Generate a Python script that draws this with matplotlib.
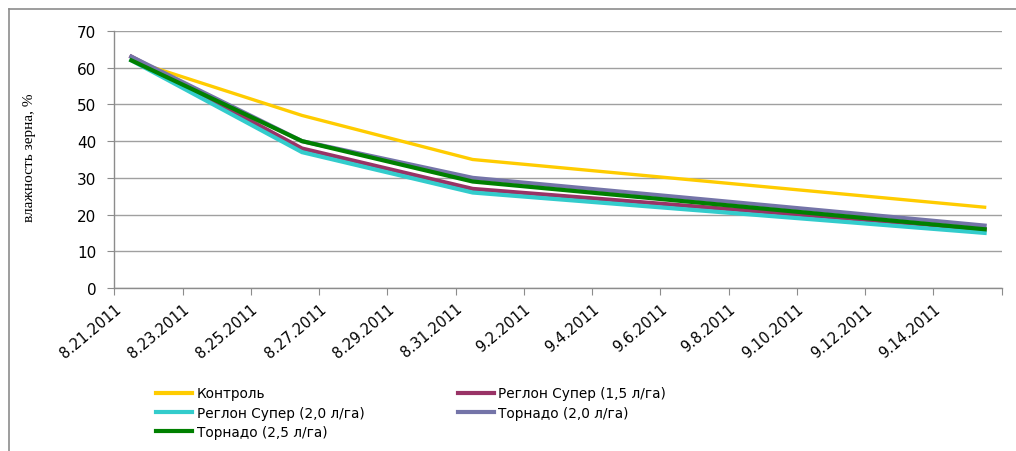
import matplotlib
matplotlib.use("Agg")
import matplotlib.pyplot as plt
from matplotlib.lines import Line2D
from datetime import date

# ---- data ----
dates = ["2011-08-21", "2011-08-26", "2011-08-31", "2011-09-15"]
series_names = ["Контроль", "Реглон Супер (1,5 л/га)", "Реглон Супер (2,0 л/га)",
                "Торнадо (2,0 л/га)", "Торнадо (2,5 л/га)"]
kontrol = [62, 47, 35, 22]
reglon_15 = [63, 38, 27, 16]
reglon_20 = [62, 37, 26, 15]
tornado_20 = [63, 40, 30, 17]
tornado_25 = [62, 40, 29, 16]
tick_labels = ["8.21.2011", "8.23.2011", "8.25.2011", "8.27.2011", "8.29.2011",
               "8.31.2011", "9.2.2011", "9.4.2011", "9.6.2011", "9.8.2011",
               "9.10.2011", "9.12.2011", "9.14.2011"]
y_ticks = [0, 10, 20, 30, 40, 50, 60, 70]
y_label = "влажность зерна, %"

# ---- styling ----
colors = ["#FFCC00", "#993366", "#33CCCC", "#7474A8", "#008000"]
widths = [2.4, 3.0, 3.0, 3.0, 3.0]
draw_order = [0, 3, 2, 1, 4]
values = [kontrol, reglon_15, reglon_20, tornado_20, tornado_25]

start = date(2011, 8, 21)
x = [(date.fromisoformat(d) - start).days + 0.5 for d in dates]

fig = plt.figure(figsize=(10.16, 4.52), dpi=100)
ax = fig.add_axes([114.3 / 1016, 1 - 289 / 452, (1001.7 - 114.3) / 1016, (289 - 32) / 452])

for i in draw_order:
    ax.plot(x, values[i], color=colors[i], lw=widths[i], solid_joinstyle="miter", zorder=3 + i * 0.01)

ax.set_xlim(0, 26)
ax.set_ylim(0, 70)
ax.set_xticks(list(range(0, 27, 2)))
ax.set_xticklabels(tick_labels + [""], rotation=40, ha="right", va="top",
                   rotation_mode="anchor", fontsize=10.5, family="DejaVu Sans")
ax.set_yticks(y_ticks)
ax.set_yticklabels([str(v) for v in y_ticks], fontsize=11)
ax.tick_params(axis="x", direction="out", length=5, color="#8c8c8c", pad=4)
ax.tick_params(axis="y", direction="out", length=5, color="#8c8c8c", pad=8)
ax.grid(axis="y", color="#a0a0a0", lw=1)
ax.set_axisbelow(True)
for s in ["top", "right"]:
    ax.spines[s].set_visible(False)
for s in ["left", "bottom"]:
    ax.spines[s].set_color("#8c8c8c")
    ax.spines[s].set_linewidth(1)

fig.text(30 / 1016, 1 - 158 / 452, y_label, rotation=90, ha="center", va="center",
         fontsize=11, family="Liberation Serif")

# legend (row-major order: fill columns so rows read across)
handles = [Line2D([0], [0], color=colors[i], lw=3) for i in range(5)]
order = [0, 2, 4, 1, 3]
leg = fig.legend([handles[i] for i in order], [series_names[i] for i in order],
                 ncol=2, loc="upper left", bbox_to_anchor=(151 / 1016, 1 - 382 / 452),
                 frameon=False, fontsize=9.8, handlelength=2.6, handletextpad=0.35,
                 columnspacing=6.9, labelspacing=0.38, borderaxespad=0)

# outer border
fig.add_artist(plt.Line2D([9 / 1016, 9 / 1016], [0, 1 - 10 / 452], color="#8c8c8c", lw=1.2,
                          transform=fig.transFigure))
fig.add_artist(plt.Line2D([9 / 1016, 1], [1 - 10 / 452, 1 - 10 / 452], color="#8c8c8c", lw=1.2,
                          transform=fig.transFigure))

fig.savefig("out.png", dpi=100)
